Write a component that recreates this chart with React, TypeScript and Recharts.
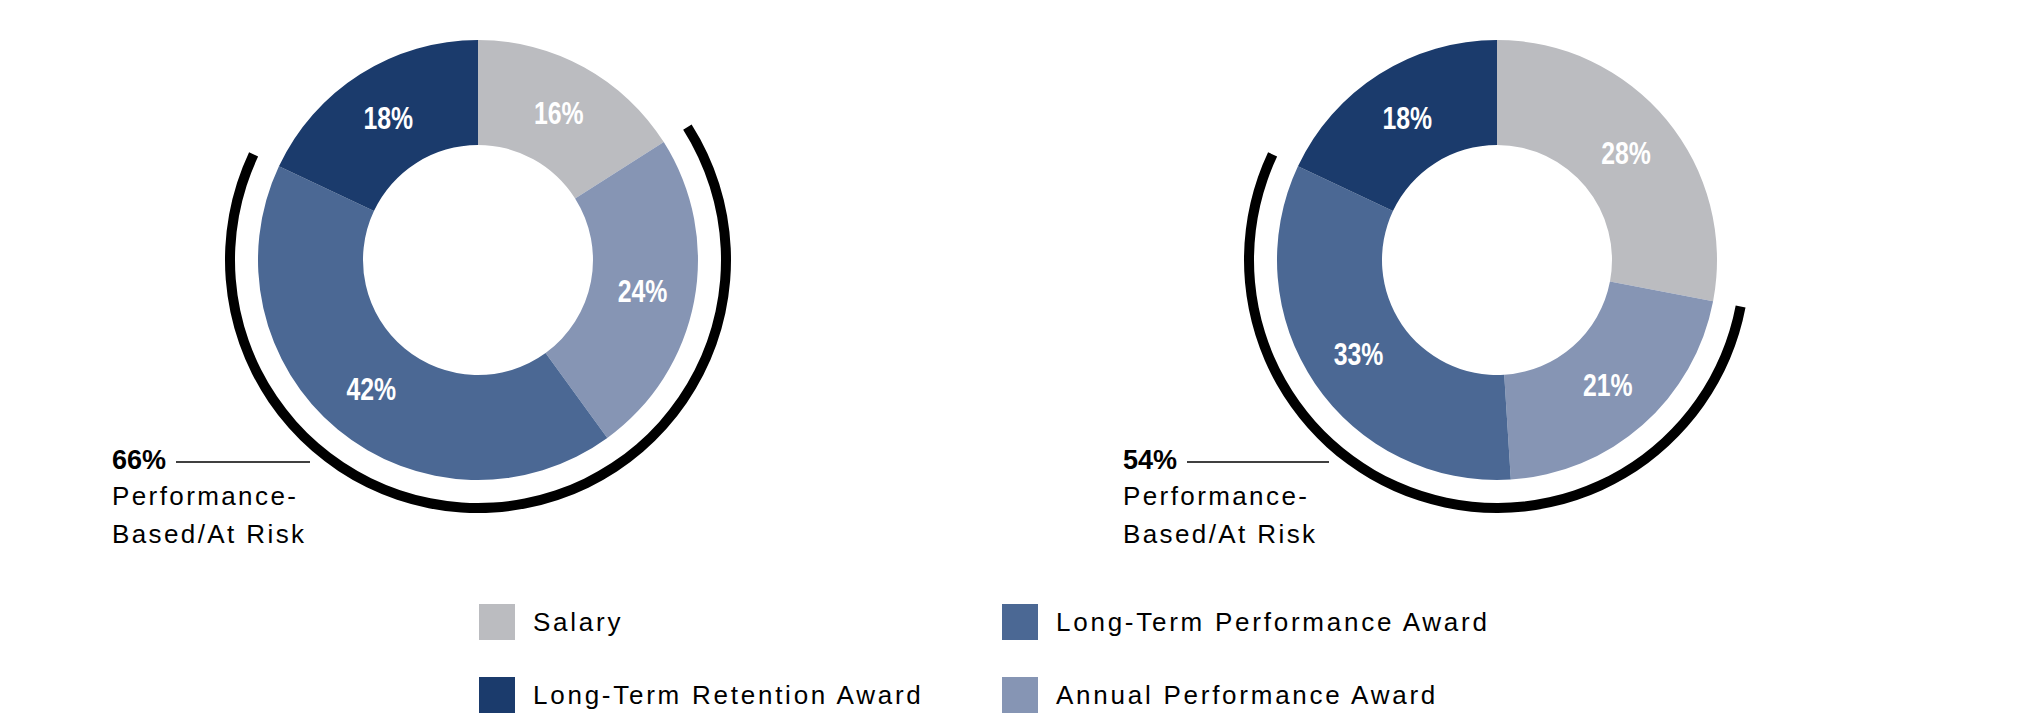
import React from 'react';
import { PieChart, Pie, Cell, Legend } from 'recharts';

const categories = ['Salary', 'Annual Performance Award', 'Long-Term Performance Award', 'Long-Term Retention Award'];
const sliceColors = ['#BBBCC0', '#8695B4', '#4B6894', '#1B3B6C'];
const leftValues = [16, 24, 42, 18];
const rightValues = [28, 21, 33, 18];
const atRiskLines = ['Performance-', 'Based/At Risk'];
const legendOrder = ['Salary', 'Long-Term Performance Award', 'Long-Term Retention Award', 'Annual Performance Award'];

const W = 2025;
const H = 714;
const RADIAN = Math.PI / 180;
const INNER = 115;
const OUTER = 220;
const ARC_IN = 243;
const ARC_OUT = 253;

const layouts = [
  { cx: 478, cy: 260, textX: 112, lineX1: 176, lineX2: 310 },
  { cx: 1497, cy: 260, textX: 1123, lineX1: 1187, lineX2: 1329 },
];

const toData = (values: number[]) => categories.map((name, i) => ({ name, value: values[i] }));
const toArcData = (values: number[]) => [
  { name: 'Salary', value: values[0] },
  { name: 'At Risk', value: values[1] + values[2] },
  { name: 'Retention', value: values[3] },
];
const atRisk = (values: number[]) => values[1] + values[2];

const renderLabel = (props: any) => {
  const { cx, cy, midAngle, innerRadius, outerRadius, value } = props;
  const r = (innerRadius + outerRadius) / 2;
  const x = cx + r * Math.cos(-midAngle * RADIAN);
  const y = cy + r * Math.sin(-midAngle * RADIAN);
  return (
    <text
      x={0}
      y={0}
      transform={`translate(${x},${y}) scale(0.8,1)`}
      fill="#fff"
      textAnchor="middle"
      dominantBaseline="central"
      style={{ fontFamily: '"Liberation Sans", Arial, sans-serif', fontWeight: 700, fontSize: 31 }}
    >
      {value}%
    </text>
  );
};

const legendPos = [
  { x: 479, y: 14 },
  { x: 1002, y: 14 },
  { x: 479, y: 87 },
  { x: 1002, y: 87 },
];

const renderLegend = () => (
  <div style={{ position: 'relative', width: W, height: 124 }}>
    {legendOrder.map((name, i) => (
      <div key={name} style={{ position: 'absolute', left: legendPos[i].x, top: legendPos[i].y, height: 36, display: 'flex', alignItems: 'center' }}>
        <div style={{ width: 36, height: 36, background: sliceColors[categories.indexOf(name)] }} />
        <span style={{ marginLeft: 18, fontSize: 26, letterSpacing: 2.75, lineHeight: '36px', color: '#000', whiteSpace: 'nowrap' }}>{name}</span>
      </div>
    ))}
  </div>
);

const seriesList = [leftValues, rightValues];

export default function App() {
  return (
    <div style={{ position: 'absolute', left: 0, top: 0, width: W, height: H, background: '#fff', fontFamily: '"Liberation Sans", Arial, sans-serif' }}>
      <PieChart width={W} height={H} margin={{ top: 0, right: 0, bottom: 0, left: 0 }}>
        <Pie
          data={toArcData(leftValues)}
          dataKey="value"
          nameKey="name"
          cx={layouts[0].cx}
          cy={layouts[0].cy}
          innerRadius={ARC_IN}
          outerRadius={ARC_OUT}
          startAngle={90}
          endAngle={-270}
          stroke="none"
          isAnimationActive={false}
          legendType="none"
        >
          <Cell fill="transparent" />
          <Cell fill="#000" />
          <Cell fill="transparent" />
        </Pie>
        <Pie
          data={toData(leftValues)}
          dataKey="value"
          nameKey="name"
          cx={layouts[0].cx}
          cy={layouts[0].cy}
          innerRadius={INNER}
          outerRadius={OUTER}
          startAngle={90}
          endAngle={-270}
          stroke="none"
          isAnimationActive={false}
          label={renderLabel}
          labelLine={false}
        >
          {categories.map((c, i) => (
            <Cell key={c} fill={sliceColors[i]} />
          ))}
        </Pie>
        <Pie
          data={toArcData(rightValues)}
          dataKey="value"
          nameKey="name"
          cx={layouts[1].cx}
          cy={layouts[1].cy}
          innerRadius={ARC_IN}
          outerRadius={ARC_OUT}
          startAngle={90}
          endAngle={-270}
          stroke="none"
          isAnimationActive={false}
          legendType="none"
        >
          <Cell fill="transparent" />
          <Cell fill="#000" />
          <Cell fill="transparent" />
        </Pie>
        <Pie
          data={toData(rightValues)}
          dataKey="value"
          nameKey="name"
          cx={layouts[1].cx}
          cy={layouts[1].cy}
          innerRadius={INNER}
          outerRadius={OUTER}
          startAngle={90}
          endAngle={-270}
          stroke="none"
          isAnimationActive={false}
          label={renderLabel}
          labelLine={false}
        >
          {categories.map((c, i) => (
            <Cell key={c} fill={sliceColors[i]} />
          ))}
        </Pie>
        <Legend
          verticalAlign="bottom"
          content={renderLegend}
          wrapperStyle={{ position: 'absolute', left: 0, top: 590, width: W, height: 124 }}
        />
      </PieChart>
      <svg width={W} height={H} style={{ position: 'absolute', left: 0, top: 0, pointerEvents: 'none' }}>
        {seriesList.map((values, k) => {
          const l = layouts[k];
          return (
            <g key={k}>
              <text x={l.textX} y={469} style={{ fontSize: 27, fontWeight: 700, fontFamily: '"Liberation Sans", Arial, sans-serif' }} fill="#000">
                {atRisk(values)}%
              </text>
              <line x1={l.lineX1} x2={l.lineX2} y1={462} y2={462} stroke="#000" strokeWidth={1.5} />
              {atRiskLines.map((t, j) => (
                <text key={t} x={l.textX} y={505 + j * 38} fill="#000" style={{ fontSize: 26, letterSpacing: 2.4, fontFamily: '"Liberation Sans", Arial, sans-serif' }}>
                  {t}
                </text>
              ))}
            </g>
          );
        })}
      </svg>
    </div>
  );
}
